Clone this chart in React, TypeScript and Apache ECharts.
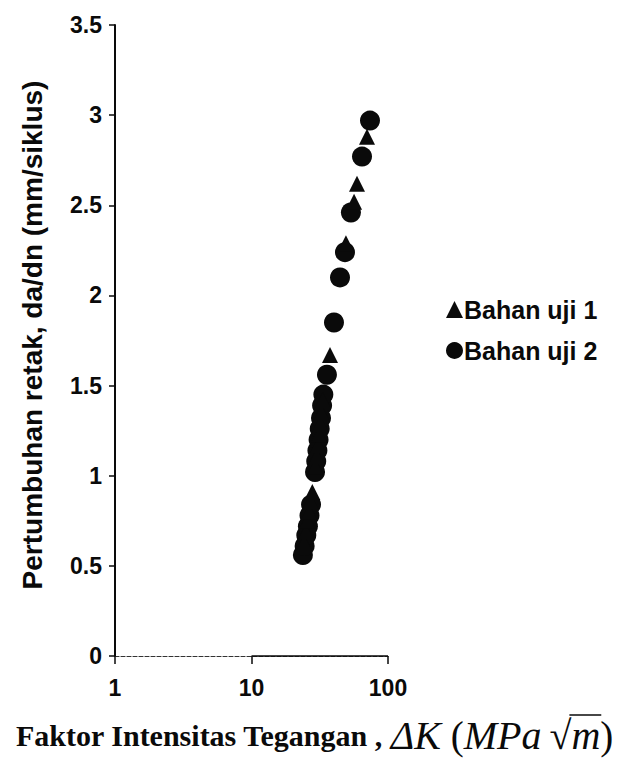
import React, { useEffect, useRef } from "react";
import * as echarts from "echarts";

const seriesNames = ["Bahan uji 1", "Bahan uji 2"];
const xTicks = [1, 10, 100];
const yTickStep = 0.5;

// Bahan uji 1 (triangles): [ΔK, da/dn]
const bahanUji1: [number, number][] = [
  [24.3, 0.63], [25.0, 0.69], [25.7, 0.75], [26.4, 0.8], [27.2, 0.86], [27.9, 0.91],
  [29.4, 1.05], [30.0, 1.11], [30.7, 1.17], [31.3, 1.23], [31.9, 1.29], [32.5, 1.35],
  [33.2, 1.42], [37.6, 1.67], [49.2, 2.29], [56.4, 2.52], [59.3, 2.62], [70.2, 2.88],
];

// Bahan uji 2 (circles)
const bahanUji2: [number, number][] = [
  [23.8, 0.56], [24.5, 0.61], [25.2, 0.67], [25.9, 0.72], [26.6, 0.78], [27.3, 0.84],
  [29.2, 1.02], [29.8, 1.08], [30.4, 1.14], [31.0, 1.2], [31.6, 1.26], [32.3, 1.32],
  [32.9, 1.39], [33.6, 1.45], [35.7, 1.56], [40.2, 1.85], [44.5, 2.1], [48.4, 2.24],
  [53.5, 2.46], [64.5, 2.77], [73.8, 2.97],
];

// solid part of the x-axis baseline (from 10 to 100)
const solidAxisSegment: [number, number][] = [[10, 0], [100, 0]];

const INK = "#0a0a0a";
const SANS = "'Liberation Sans', Arial, sans-serif";
const SERIF = "'Liberation Serif', 'Times New Roman', serif";

// x-axis title pieces: [text, font]
const titleParts: [string, string][] = [
  ["Faktor Intensitas Tegangan , ", `bold 30px ${SERIF}`],
  ["ΔK", `italic 40px ${SERIF}`],
  [" (", `39px ${SERIF}`],
  ["MPa", `italic 40px ${SERIF}`],
  ["\u2009√", `40px ${SERIF}`],
  ["m", `italic 40px ${SERIF}`],
  [")", `39px ${SERIF}`],
];

function measure(text: string, font: string): number {
  const c = document.createElement("canvas").getContext("2d");
  if (!c) return text.length * 15;
  c.font = font;
  return c.measureText(text).width;
}

export default function App() {
  const ref = useRef<HTMLDivElement>(null);

  useEffect(() => {
    document.body.style.margin = "0";
    if (!ref.current) return;
    const chart = echarts.init(ref.current, null, { renderer: "svg" });

    const titleX = 16;
    const titleY = 735;
    const widths = titleParts.map(([t, f]) => measure(t, f));
    const starts: number[] = [];
    let acc = titleX;
    widths.forEach((w) => {
      starts.push(acc);
      acc += w;
    });
    const mIdx = 5;
    const overlineX1 = starts[mIdx] - 2;
    const overlineX2 = starts[mIdx] + widths[mIdx] + 1;

    const rich: Record<string, any> = {};
    let richText = "";
    titleParts.forEach(([t, f], i) => {
      rich["p" + i] = { font: f, fill: INK };
      richText += `{p${i}|${t}}`;
    });

    chart.setOption({
      animation: false,
      backgroundColor: "#ffffff",
      grid: { left: 115, top: 25, width: 273, height: 631, containLabel: false },
      xAxis: {
        type: "log",
        logBase: 10,
        min: xTicks[0],
        max: xTicks[xTicks.length - 1],
        splitLine: { show: false },
        minorTick: { show: false },
        axisLine: { show: true, lineStyle: { color: "#333", width: 1.2, type: [4, 2] } },
        axisTick: { show: true, length: 8, inside: false, lineStyle: { color: INK, width: 1.5 } },
        axisLabel: {
          show: true,
          margin: 20,
          color: INK,
          fontSize: 23,
          fontWeight: "bold",
          fontFamily: SANS,
        },
      },
      yAxis: {
        type: "value",
        min: 0,
        max: 3.5,
        interval: yTickStep,
        splitLine: { show: false },
        axisLine: { show: true, lineStyle: { color: INK, width: 2 } },
        axisTick: { show: true, length: 6, inside: false, lineStyle: { color: INK, width: 1.5 } },
        axisLabel: {
          margin: 13,
          color: INK,
          fontSize: 23,
          fontWeight: "bold",
          fontFamily: SANS,
        },
      },
      legend: {
        orient: "vertical",
        left: 441,
        top: 292,
        itemWidth: 17,
        itemHeight: 17,
        itemGap: 16,
        textStyle: { color: INK, fontSize: 25, fontWeight: "bold", fontFamily: SANS, padding: [0, 0, 0, -4] },
        data: [
          { name: seriesNames[0], icon: "triangle" },
          { name: seriesNames[1], icon: "circle" },
        ],
      },
      series: [
        {
          name: seriesNames[0],
          type: "scatter",
          symbol: "triangle",
          symbolSize: 16,
          itemStyle: { color: INK, opacity: 1 },
          data: bahanUji1,
          z: 3,
          markLine: {
            silent: true,
            symbol: ["none", "none"],
            label: { show: false },
            lineStyle: { color: INK, width: 1.5, type: "solid" },
            data: [[{ coord: solidAxisSegment[0] }, { coord: solidAxisSegment[1] }]],
          },
        },
        {
          name: seriesNames[1],
          type: "scatter",
          symbol: "circle",
          symbolSize: 20,
          itemStyle: { color: INK, opacity: 1 },
          data: bahanUji2,
          z: 2,
        },
      ],
      graphic: [
        {
          type: "text",
          x: 32,
          y: 335,
          rotation: Math.PI / 2,
          style: {
            text: "Pertumbuhan retak, da/dn (mm/siklus)",
            fill: INK,
            font: `bold 28px ${SANS}`,
            textAlign: "center",
            textVerticalAlign: "middle",
          },
        },
        {
          type: "text",
          x: titleX,
          y: titleY,
          style: {
            text: richText,
            textVerticalAlign: "middle",
            rich,
          },
        },
        {
          type: "line",
          shape: { x1: overlineX1, y1: titleY - 20, x2: overlineX2, y2: titleY - 20 },
          style: { stroke: INK, lineWidth: 1.6 },
        },
      ],
    });
    return () => chart.dispose();
  }, []);

  return <div ref={ref} style={{ width: 640, height: 759 }} />;
}
